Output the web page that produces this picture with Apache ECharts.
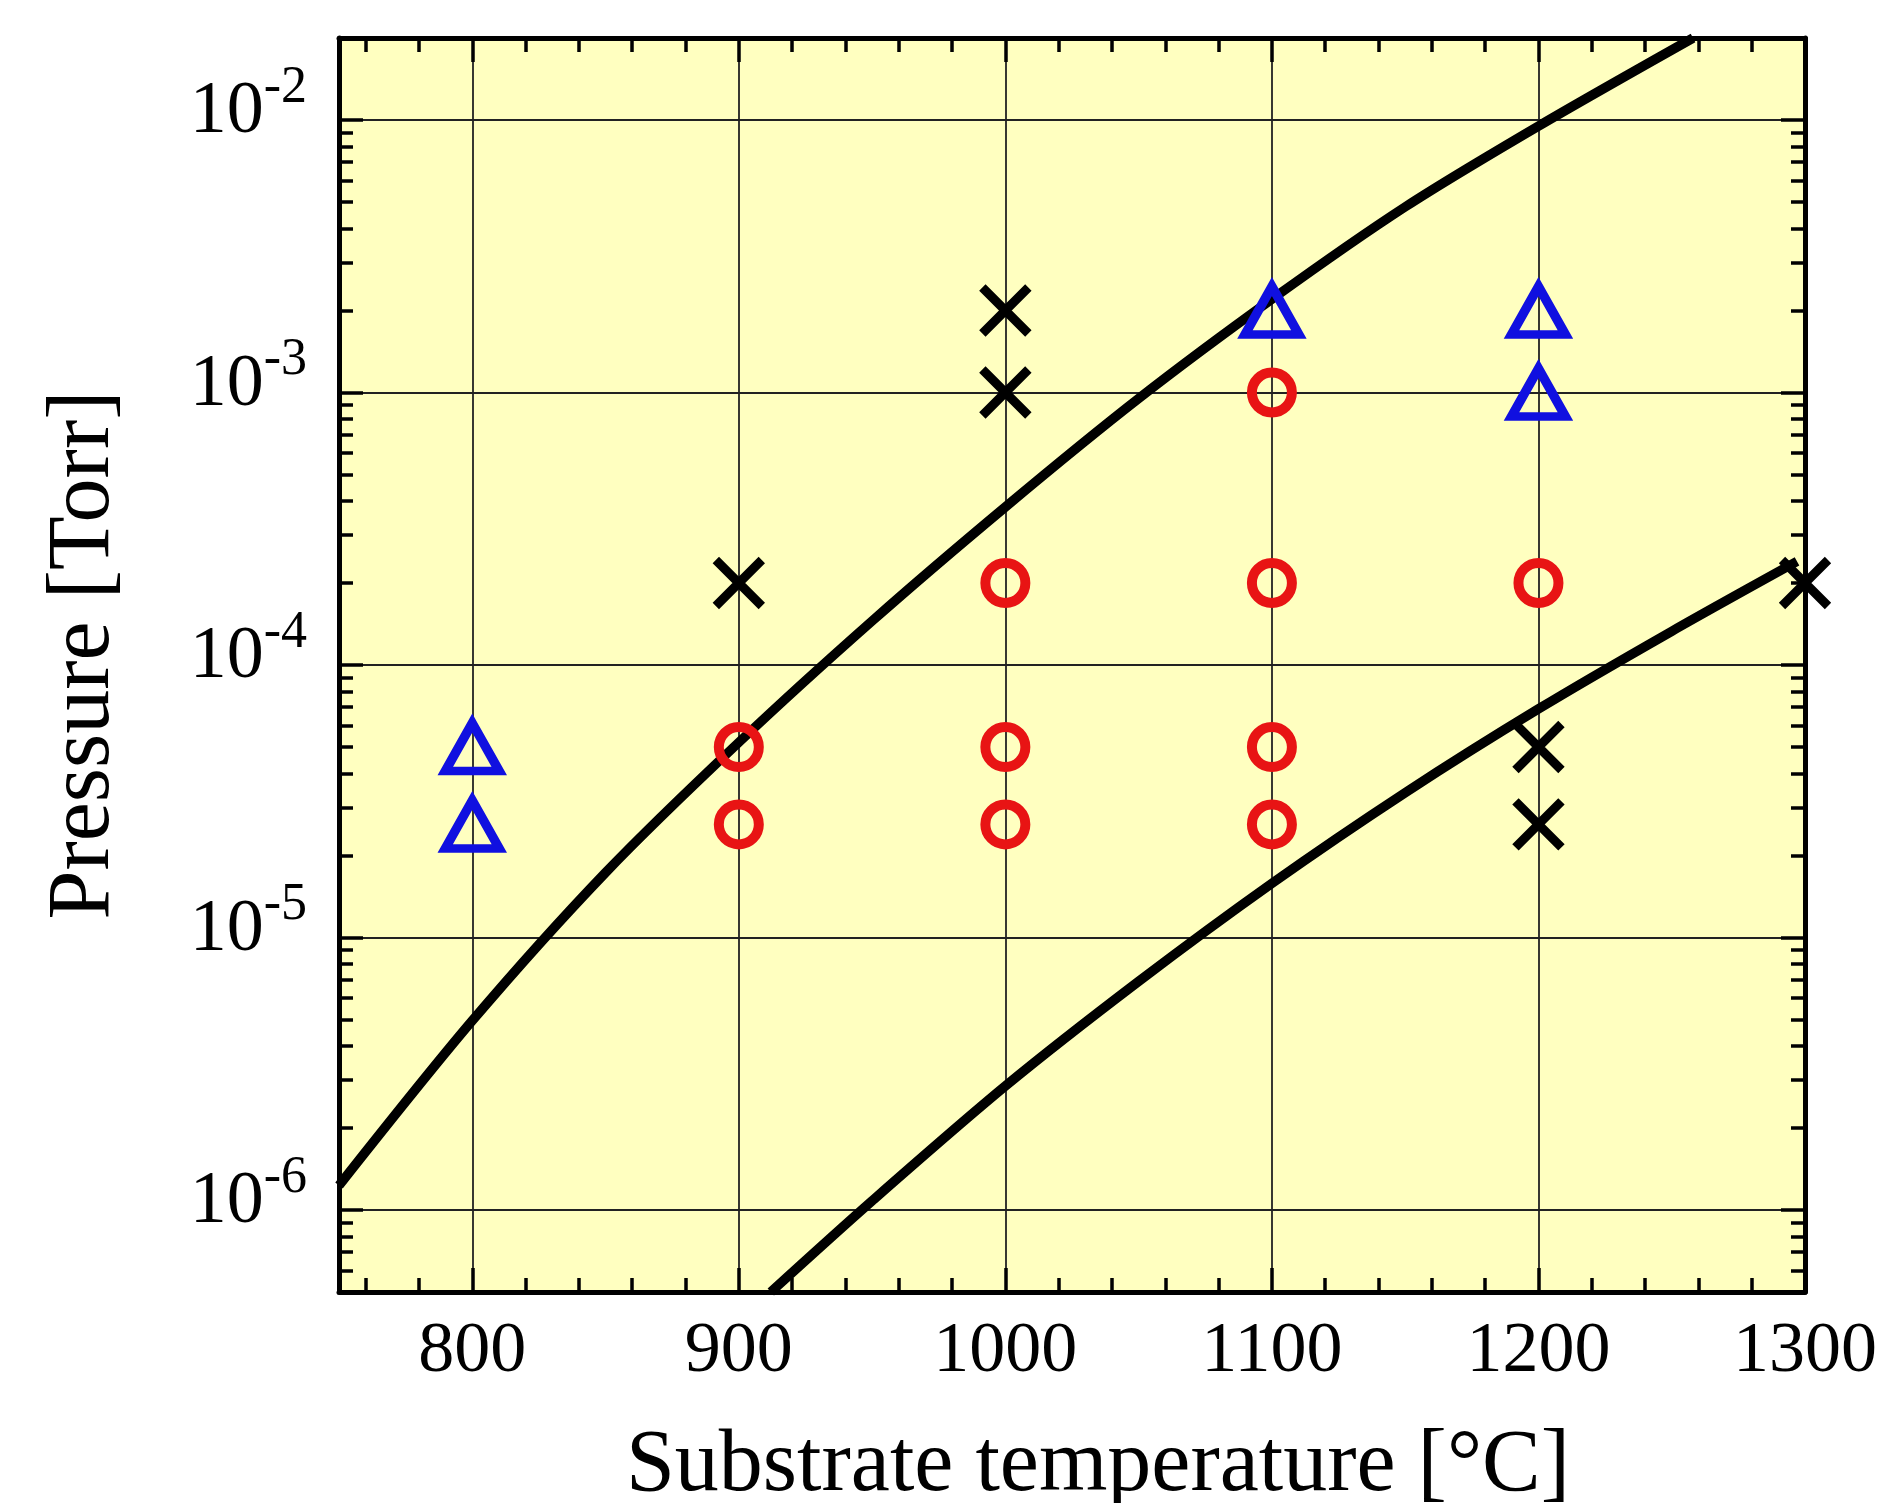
<!DOCTYPE html>
<html>
<head>
<meta charset="utf-8">
<title>Pressure vs substrate temperature</title>
<script src="https://cdn.jsdelivr.net/npm/echarts@6/dist/echarts.min.js"></script>
<style>
    html, body { margin: 0; padding: 0; background: #fff; }
    #container { width: 1887px; height: 1503px; }
</style>
</head>
<body>
<div id="container"></div>
<script>
// measured points: [temperature C, pressure Torr]
var circlePts = [[900, 5e-5], [900, 2.6e-5], [1000, 2e-4], [1000, 5e-5], [1000, 2.6e-5],
    [1100, 1e-3], [1100, 2e-4], [1100, 5e-5], [1100, 2.6e-5], [1200, 2e-4]];
var trianglePts = [[800, 5e-5], [800, 2.6e-5], [1100, 2e-3], [1200, 2e-3], [1200, 1e-3]];
var crossPts = [[900, 2e-4], [1000, 2e-3], [1000, 1e-3], [1200, 5e-5], [1200, 2.6e-5], [1300, 2e-4]];

// boundary curves
var upperCurve = [[750, 1.23e-6], [800, 4.95e-6], [850, 1.73e-5], [900, 5.2e-5], [950, 1.45e-4],
    [1000, 3.8e-4], [1050, 9.5e-4], [1100, 2.2e-3], [1150, 4.8e-3], [1200, 9.5e-3], [1258, 2e-2]];
var lowerCurve = [[912, 5e-7], [950, 1.08e-6], [1000, 2.85e-6], [1050, 6.9e-6], [1100, 1.58e-5],
    [1150, 3.4e-5], [1200, 6.9e-5], [1250, 1.33e-4], [1297, 2.4e-4]];

// axes
var xMin = 750, xMax = 1300;
var pMin = 5e-7, pMax = 2e-2;
var xLabels = [800, 900, 1000, 1100, 1200, 1300];
var yExponents = [-6, -5, -4, -3, -2];
var yMinorMult = [2, 3, 4, 5, 6, 7, 8, 9];

var FONT = 'Liberation Serif';

function toLog(pts) {
    return pts.map(function (d) { return [d[0], Math.log10(d[1])]; });
}

// minor ticks: every 20 C, and 2..9 inside each decade
var xMinor = [];
for (var t = 760; t < xMax; t += 20) {
    if (t % 100 !== 0) xMinor.push(t);
}
var yMinor = [];
for (var e = -7; e <= -2; e++) {
    for (var k = 0; k < yMinorMult.length; k++) {
        yMinor.push(e + Math.log10(yMinorMult[k]));
    }
}

var yLo = Math.log10(pMin), yHi = Math.log10(pMax);

function xAx(pos, major) {
    return {
        type: 'value', position: pos, min: xMin, max: xMax,
        axisLine: { show: major, onZero: false, lineStyle: { color: '#000', width: 5 } },
        axisTick: { show: true, inside: true, length: major ? 24 : 14,
            customValues: major ? xLabels : xMinor,
            lineStyle: { color: '#000', width: 3.5 } },
        axisLabel: { show: false },
        splitLine: { show: false }
    };
}
function yAx(pos, major) {
    return {
        type: 'value', position: pos, min: yLo, max: yHi,
        axisLine: { show: major, onZero: false, lineStyle: { color: '#000', width: 5 } },
        axisTick: { show: true, inside: true, length: major ? 24 : 14,
            customValues: major ? yExponents : yMinor,
            lineStyle: { color: '#000', width: 3.5 } },
        axisLabel: { show: false },
        splitLine: { show: false }
    };
}

var xBottom = xAx('bottom', true);
xBottom.axisLabel = {
    show: true, customValues: xLabels, margin: 24,
    formatter: function (v) { return String(v); },
    fontFamily: FONT, fontSize: 72, color: '#000'
};
xBottom.splitLine = { show: true, lineStyle: { color: '#222', width: 1.8 } };
xBottom.name = 'Substrate temperature [°C]';
xBottom.nameLocation = 'middle';
xBottom.nameGap = 131;
xBottom.nameTextStyle = { fontFamily: FONT, fontSize: 88, color: '#000', padding: [0, 0, 0, 52] };

var yLeft = yAx('left', true);
yLeft.axisLabel = {
    show: true, customValues: yExponents, margin: 32,
    padding: [0, 0, 28, 0],
    formatter: function (v) { return '{b|10}{s|' + Math.round(v) + '}'; },
    rich: {
        b: { fontFamily: FONT, fontSize: 74, lineHeight: 88, color: '#000', verticalAlign: 'bottom' },
        s: { fontFamily: FONT, fontSize: 52, lineHeight: 52, color: '#000', verticalAlign: 'top' }
    }
};
yLeft.splitLine = { show: true, lineStyle: { color: '#222', width: 1.8 } };
yLeft.name = 'Pressure [Torr]';
yLeft.nameLocation = 'middle';
yLeft.nameRotate = 90;
yLeft.nameGap = 210;
yLeft.nameTextStyle = { fontFamily: FONT, fontSize: 88, color: '#000', padding: [0, 0, 0, 20] };

var option = {
    animation: false,
    backgroundColor: '#fff',
    grid: {
        left: 339, top: 38, width: 1466, height: 1254,
        show: true, backgroundColor: '#ffffc0', borderWidth: 0,
        outerBoundsMode: 'none'
    },
    xAxis: [xBottom, xAx('bottom', false), xAx('top', true), xAx('top', false)],
    yAxis: [yLeft, yAx('left', false), yAx('right', true), yAx('right', false)],
    series: [
        {
            type: 'line', data: toLog(upperCurve), smooth: 0.3, showSymbol: false,
            lineStyle: { color: '#000', width: 9.5 }, z: 3
        },
        {
            type: 'line', data: toLog(lowerCurve), smooth: 0.3, showSymbol: false,
            lineStyle: { color: '#000', width: 9.5 }, z: 3
        },
        {
            type: 'scatter', data: toLog(circlePts), symbol: 'circle', symbolSize: 40,
            itemStyle: { color: 'rgba(0,0,0,0)', borderColor: '#e81414', borderWidth: 10, opacity: 1 }, z: 4
        },
        {
            type: 'scatter', data: toLog(trianglePts), symbol: 'triangle', symbolSize: [54, 48],
            itemStyle: { color: 'rgba(0,0,0,0)', borderColor: '#1010e0', borderWidth: 9, opacity: 1 }, z: 4
        },
        {
            type: 'scatter', data: toLog(crossPts), symbol: 'path://M0,0L10,10M10,0L0,10', symbolSize: 46,
            itemStyle: { color: 'rgba(0,0,0,0)', borderColor: '#000', borderWidth: 9, opacity: 1 }, z: 4
        }
    ]
};

var myChart = echarts.init(document.getElementById('container'));
myChart.setOption(option);
</script>
</body>
</html>
